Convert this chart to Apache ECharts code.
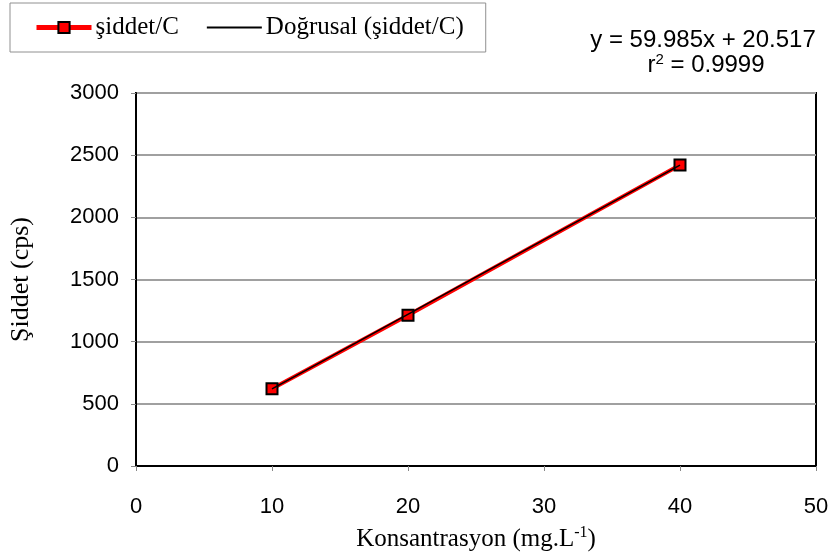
<!DOCTYPE html>
<html>
<head>
<meta charset="utf-8">
<style>html,body{margin:0;padding:0;background:#fff}#c{width:833px;height:558px}</style>
<script src="https://cdn.jsdelivr.net/npm/echarts@6/dist/echarts.min.js"></script>
</head>
<body>
<div id="c"></div>
<script>
const concentrations = [10, 20, 40];
const intensities = [622, 1212, 2420];
const trendX = [10, 40];
const trendY = [620.4, 2419.9];
const xTicks = [0, 10, 20, 30, 40, 50];
const yTicks = [0, 500, 1000, 1500, 2000, 2500, 3000];
const seriesName = 'şiddet/C';
const trendName = 'Doğrusal (şiddet/C)';
const eqLine1 = 'y = 59.985x + 20.517';
const eqLine2 = 'r{sup|2} = 0.9999';

const chart = echarts.init(document.getElementById('c'));
const serif = '"Liberation Serif", "Times New Roman", serif';
const sans = '"Liberation Sans", Arial, sans-serif';
chart.setOption({
  animation: false,
  backgroundColor: '#fff',
  grid: {left: 136, right: 17, top: 93, bottom: 92, show: true, borderColor: '#000', borderWidth: 2, containLabel: false},
  legend: {
    left: 10, top: 3, padding: [12, 22, 12, 24],
    borderColor: '#909090', borderWidth: 1,
    itemWidth: 55, itemHeight: 14, itemGap: 27,
    textStyle: {fontFamily: serif, fontSize: 25, color: '#000', padding: [0,0,0,-1]},
    data: [
      {name: seriesName, lineStyle: {width: 5}},
      {name: trendName, lineStyle: {width: 2}}
    ]
  },
  xAxis: {
    type: 'value', min: xTicks[0], max: xTicks[xTicks.length-1], interval: 10,
    axisLine: {show: true, lineStyle: {color: '#000', width: 2}},
    axisTick: {show: true, inside: false, length: 5, lineStyle: {color: '#888'}},
    splitLine: {show: false},
    axisLabel: {fontFamily: sans, fontSize: 22, color: '#000', margin: 30},
    name: 'Konsantrasyon (mg.L{sup|-1})', nameLocation: 'middle', nameGap: 59,
    nameTextStyle: {fontFamily: serif, fontSize: 25, color: '#000',
      rich: {sup: {fontFamily: serif, fontSize: 16, color: '#000', verticalAlign: 'top', padding: [0,0,13,0]}}}
  },
  yAxis: {
    type: 'value', min: yTicks[0], max: yTicks[yTicks.length-1], interval: 500,
    axisLine: {show: true, lineStyle: {color: '#000', width: 2}},
    axisTick: {show: true, inside: false, length: 5, lineStyle: {color: '#888'}},
    splitLine: {show: true, lineStyle: {color: '#a0a0a0', width: 2}},
    axisLabel: {fontFamily: sans, fontSize: 22, color: '#000', margin: 17, formatter: v => String(v)},
    name: 'Şiddet (cps)', nameLocation: 'middle', nameGap: 102, nameRotate: 90,
    nameTextStyle: {fontFamily: serif, fontSize: 26, color: '#000'}
  },
  series: [
    {
      name: seriesName, type: 'line', z: 3,
      data: concentrations.map((x, i) => [x, intensities[i]]),
      symbol: 'rect', symbolSize: 11,
      lineStyle: {color: '#ff0000', width: 4},
      itemStyle: {color: '#ff0000', borderColor: '#000', borderWidth: 2}
    },
    {
      name: trendName, type: 'line', z: 4,
      data: trendX.map((x, i) => [x, trendY[i]]),
      showSymbol: false, symbol: 'circle', symbolSize: 0,
      lineStyle: {color: '#000', width: 1.5},
      itemStyle: {color: 'rgba(0,0,0,0)', borderWidth: 0}
    }
  ],
  graphic: [
    {type: 'text', x: 703, y: 28, style: {text: eqLine1, font: '24px ' + sans, fill: '#000', align: 'center'}},
    {type: 'text', x: 706, y: 52, style: {text: eqLine2, font: '24px ' + sans, fill: '#000', align: 'center',
      rich: {sup: {fontSize: 15, fontFamily: sans, verticalAlign: 'top', padding: [0,0,11,0]}}}}
  ]
});
</script>
</body>
</html>
